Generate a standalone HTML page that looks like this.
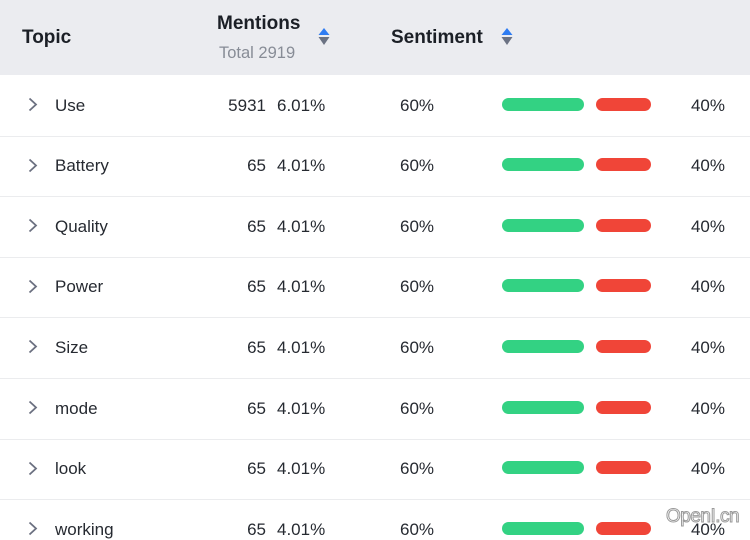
<!DOCTYPE html>
<html><head><meta charset="utf-8">
<style>
*{margin:0;padding:0;box-sizing:border-box}
html,body{width:750px;height:529px;overflow:hidden;background:#fff;font-family:"Liberation Sans",Arial,sans-serif;color:#1f2329}
.hdr{position:absolute;left:0;top:0;width:750px;height:75px;background:#ebecf0}
.t{position:absolute;white-space:nowrap;line-height:20px}
.h{font-size:19px;font-weight:bold;color:#1b1f26}
.r{font-size:17px;color:#262a31}
.sep{position:absolute;left:0;width:750px;height:1px;background:#ebecee}
.g{position:absolute;left:502px;width:82px;height:13px;border-radius:7px;background:#33d283}
.rd{position:absolute;left:596px;width:55px;height:13px;border-radius:7px;background:#f04538}
.ch{position:absolute;left:27px}
.c1{left:55px}.c2{right:484px}.c3{left:277px}.c4{left:400px}.c5{right:25px}
.wm{position:absolute;left:666px;top:506px;font-size:19px;color:#fff;-webkit-text-stroke:1px #9a9a9a;font-family:"Liberation Sans",sans-serif;letter-spacing:-0.5px}
</style></head><body>
<div class="hdr"></div>
<div class="t h" style="left:22px;top:28px">Topic</div>
<div class="t h" style="left:217px;top:14px">Mentions</div>
<div class="t" style="left:219px;top:43px;font-size:16.5px;color:#878c96">Total 2919</div>
<div class="t h" style="left:391px;top:28px">Sentiment</div>
<svg style="position:absolute;left:317px;top:27px" width="14" height="20">
<polygon points="1.5,8 12.5,8 7,1" fill="#2e7cf2"/>
<polygon points="1.5,10 12.5,10 7,18" fill="#6b7283"/>
</svg>
<svg style="position:absolute;left:500px;top:27px" width="14" height="20">
<polygon points="1.5,8 12.5,8 7,1" fill="#2e7cf2"/>
<polygon points="1.5,10 12.5,10 7,18" fill="#6b7283"/>
</svg>

<!-- row 1 -->
<svg class="ch" style="top:97px" width="12" height="15"><polyline points="2.5,1.5 9,7.5 2.5,13.5" fill="none" stroke="#6b7080" stroke-width="1.8"/></svg>
<div class="t r c1" style="top:95.5px">Use</div>
<div class="t r c2" style="top:95.5px">5931</div>
<div class="t r c3" style="top:95.5px">6.01%</div>
<div class="t r c4" style="top:95.5px">60%</div>
<div class="g" style="top:97.5px"></div><div class="rd" style="top:97.5px"></div>
<div class="t r c5" style="top:95.5px">40%</div>
<div class="sep" style="top:135.5px"></div>

<!-- row 2 -->
<svg class="ch" style="top:157.6px" width="12" height="15"><polyline points="2.5,1.5 9,7.5 2.5,13.5" fill="none" stroke="#6b7080" stroke-width="1.8"/></svg>
<div class="t r c1" style="top:156.1px">Battery</div>
<div class="t r c2" style="top:156.1px">65</div>
<div class="t r c3" style="top:156.1px">4.01%</div>
<div class="t r c4" style="top:156.1px">60%</div>
<div class="g" style="top:158.1px"></div><div class="rd" style="top:158.1px"></div>
<div class="t r c5" style="top:156.1px">40%</div>
<div class="sep" style="top:196.1px"></div>

<!-- row 3 -->
<svg class="ch" style="top:218.2px" width="12" height="15"><polyline points="2.5,1.5 9,7.5 2.5,13.5" fill="none" stroke="#6b7080" stroke-width="1.8"/></svg>
<div class="t r c1" style="top:216.7px">Quality</div>
<div class="t r c2" style="top:216.7px">65</div>
<div class="t r c3" style="top:216.7px">4.01%</div>
<div class="t r c4" style="top:216.7px">60%</div>
<div class="g" style="top:218.7px"></div><div class="rd" style="top:218.7px"></div>
<div class="t r c5" style="top:216.7px">40%</div>
<div class="sep" style="top:256.7px"></div>

<!-- row 4 -->
<svg class="ch" style="top:278.8px" width="12" height="15"><polyline points="2.5,1.5 9,7.5 2.5,13.5" fill="none" stroke="#6b7080" stroke-width="1.8"/></svg>
<div class="t r c1" style="top:277.3px">Power</div>
<div class="t r c2" style="top:277.3px">65</div>
<div class="t r c3" style="top:277.3px">4.01%</div>
<div class="t r c4" style="top:277.3px">60%</div>
<div class="g" style="top:279.3px"></div><div class="rd" style="top:279.3px"></div>
<div class="t r c5" style="top:277.3px">40%</div>
<div class="sep" style="top:317.3px"></div>

<!-- row 5 -->
<svg class="ch" style="top:339.4px" width="12" height="15"><polyline points="2.5,1.5 9,7.5 2.5,13.5" fill="none" stroke="#6b7080" stroke-width="1.8"/></svg>
<div class="t r c1" style="top:337.9px">Size</div>
<div class="t r c2" style="top:337.9px">65</div>
<div class="t r c3" style="top:337.9px">4.01%</div>
<div class="t r c4" style="top:337.9px">60%</div>
<div class="g" style="top:339.9px"></div><div class="rd" style="top:339.9px"></div>
<div class="t r c5" style="top:337.9px">40%</div>
<div class="sep" style="top:377.9px"></div>

<!-- row 6 -->
<svg class="ch" style="top:400px" width="12" height="15"><polyline points="2.5,1.5 9,7.5 2.5,13.5" fill="none" stroke="#6b7080" stroke-width="1.8"/></svg>
<div class="t r c1" style="top:398.5px">mode</div>
<div class="t r c2" style="top:398.5px">65</div>
<div class="t r c3" style="top:398.5px">4.01%</div>
<div class="t r c4" style="top:398.5px">60%</div>
<div class="g" style="top:400.5px"></div><div class="rd" style="top:400.5px"></div>
<div class="t r c5" style="top:398.5px">40%</div>
<div class="sep" style="top:438.5px"></div>

<!-- row 7 -->
<svg class="ch" style="top:460.6px" width="12" height="15"><polyline points="2.5,1.5 9,7.5 2.5,13.5" fill="none" stroke="#6b7080" stroke-width="1.8"/></svg>
<div class="t r c1" style="top:459.1px">look</div>
<div class="t r c2" style="top:459.1px">65</div>
<div class="t r c3" style="top:459.1px">4.01%</div>
<div class="t r c4" style="top:459.1px">60%</div>
<div class="g" style="top:461.1px"></div><div class="rd" style="top:461.1px"></div>
<div class="t r c5" style="top:459.1px">40%</div>
<div class="sep" style="top:499.1px"></div>

<!-- row 8 -->
<svg class="ch" style="top:521.2px" width="12" height="15"><polyline points="2.5,1.5 9,7.5 2.5,13.5" fill="none" stroke="#6b7080" stroke-width="1.8"/></svg>
<div class="t r c1" style="top:519.7px">working</div>
<div class="t r c2" style="top:519.7px">65</div>
<div class="t r c3" style="top:519.7px">4.01%</div>
<div class="t r c4" style="top:519.7px">60%</div>
<div class="g" style="top:521.7px"></div><div class="rd" style="top:521.7px"></div>
<div class="t r c5" style="top:519.7px">40%</div>

<div class="wm">OpenI.cn</div>
</body></html>
